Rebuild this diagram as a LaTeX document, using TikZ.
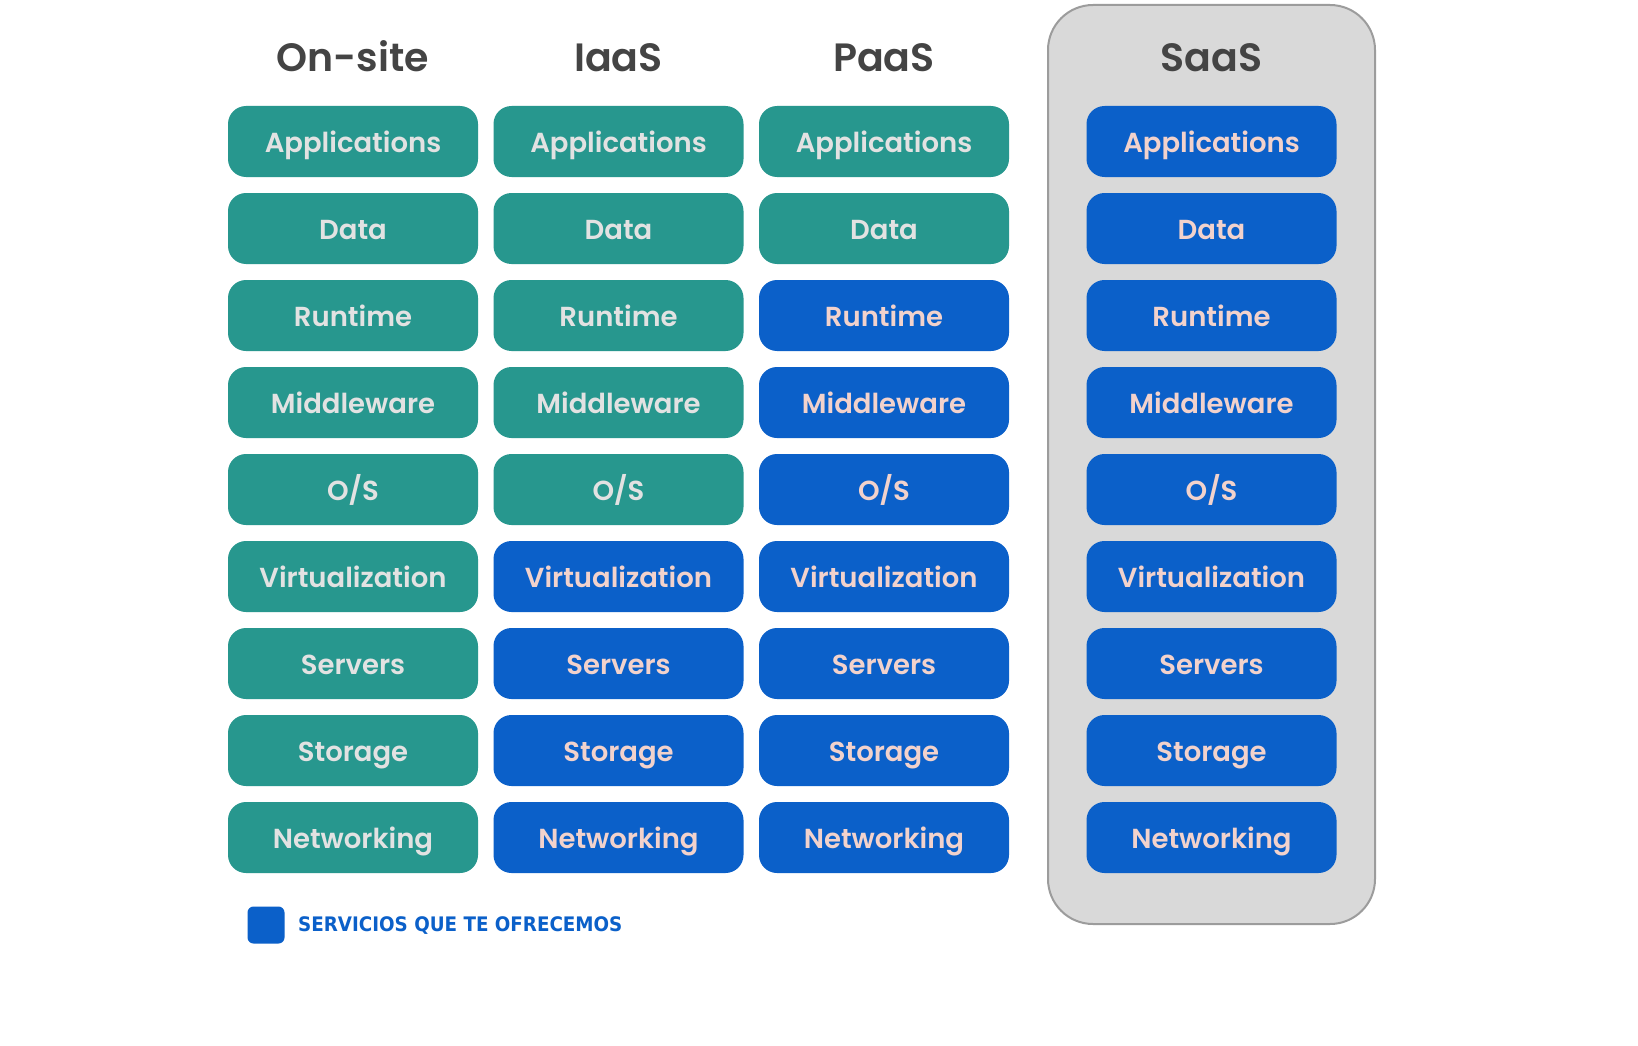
\documentclass[tikz,border=0pt]{standalone}
\usepackage{fontspec}
\setmainfont{Poppins}
\newfontfamily\tilefont{Poppins SemiBold}
\newfontfamily\legendfont{DejaVu Sans}
\definecolor{tealc}{HTML}{27978E}
\definecolor{bluec}{HTML}{0B60C9}
\definecolor{tealtext}{HTML}{E2E2E2}
\definecolor{bluetext}{HTML}{F2D2CC}
\definecolor{titlec}{HTML}{444444}
\definecolor{framefill}{HTML}{D9D9D9}
\definecolor{framedraw}{HTML}{9C9C9C}
\begin{document}
\begin{tikzpicture}[x=1pt,y=-1pt,
  tile/.style={rounded corners=18pt, minimum width=250pt, minimum height=71pt, inner sep=0pt,
    text height=22pt, text depth=0pt, font=\tilefont\fontsize{27.5}{27.5}\selectfont},
  onprem/.style={tile, fill=tealc, text=tealtext},
  offered/.style={tile, fill=bluec, text=bluetext},
  coltitle/.style={anchor=base, text=titlec, inner sep=0pt, font=\tilefont\fontsize{39.5}{39.5}\selectfont},
  container/.style={fill=framefill, draw=framedraw, line width=2pt, rounded corners=45pt,
    minimum width=327pt, minimum height=919pt, inner sep=0pt}]
\fill[white] (0,0) rectangle (1638,1046);
\useasboundingbox (0,0) rectangle (1638,1046);
\node[container] (saasframe) at (1211.5,464.5) {};
\node[coltitle] (t-onsite) at (353,71.5) {On-site};
\node[coltitle] (t-iaas) at (618.5,71.5) {IaaS};
\node[coltitle] (t-paas) at (884,71.5) {PaaS};
\node[coltitle] (t-saas) at (1211.5,71.5) {SaaS};
\foreach \lab [count=\i from 0] in {Applications,Data,Runtime,Middleware,O/S,Virtualization,Servers,Storage,Networking}{
  \pgfmathsetmacro{\yy}{141.5+87*\i}
  \node[onprem] (onsite\i) at (353,\yy) {\lab};
  \ifnum\i<5
    \node[onprem] (iaas\i) at (618.5,\yy) {\lab};
  \else
    \node[offered] (iaas\i) at (618.5,\yy) {\lab};
  \fi
  \ifnum\i<2
    \node[onprem] (paas\i) at (884,\yy) {\lab};
  \else
    \node[offered] (paas\i) at (884,\yy) {\lab};
  \fi
  \node[offered] (saas\i) at (1211.5,\yy) {\lab};
}
\node[fill=bluec, rounded corners=6pt, minimum size=37pt, inner sep=0pt] (legendkey) at (266,925) {};
\node[anchor=base west, inner sep=0pt, text=bluec, font=\legendfont\bfseries\fontsize{20}{20}\selectfont] (legendtext) at (298,931.7) {\scalebox{0.915}[1]{SERVICIOS QUE TE OFRECEMOS}};
\end{tikzpicture}
\end{document}
